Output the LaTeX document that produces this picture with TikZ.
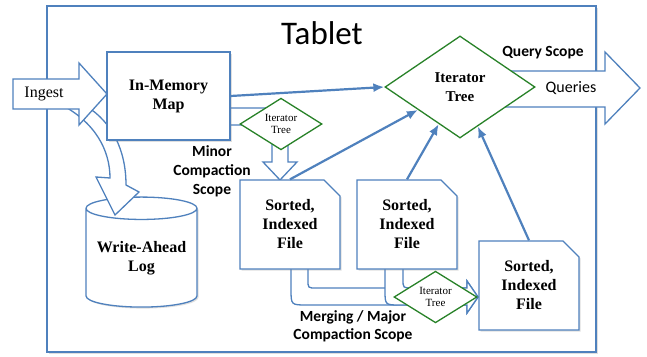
\documentclass[tikz,border=0pt]{standalone}
\usepackage{fontspec}
\setmainfont{Liberation Serif}
\setsansfont{Carlito}
\usetikzlibrary{shapes.geometric,shapes.misc,arrows.meta,positioning,shadows}
\definecolor{lineblue}{RGB}{79,129,189}
\definecolor{treegreen}{RGB}{40,130,40}
\tikzset{>={Latex[length=11pt,width=9pt]}, x=1pt, y=-1pt}
\tikzstyle{shade} = [drop shadow={opacity=0.25, shadow xshift=1.5pt, shadow yshift=-1.5pt}]
\tikzstyle{box} = [draw=lineblue, line width=1.3pt, fill=white, rectangle, align=center, inner sep=0pt, shade, font=\fontsize{16}{19}\selectfont\bfseries]
\tikzstyle{file} = [box, chamfered rectangle, chamfered rectangle corners=north east, chamfered rectangle xsep=8pt, chamfered rectangle ysep=8pt, minimum width=100pt, minimum height=89pt]
\tikzstyle{tree} = [draw=treegreen, line width=1.3pt, fill=white, diamond, inner sep=0pt, align=center]
\tikzstyle{fat} = [draw=lineblue, line width=1.3pt, fill=white, line join=miter]
\tikzstyle{conn} = [draw=lineblue, line width=2.2pt, ->]
\tikzstyle{scopelabel} = [align=center, font=\sffamily\bfseries\fontsize{15.5}{19}\selectfont]

\begin{document}
\begin{tikzpicture}
	\useasboundingbox (0,0) rectangle (647,356);

	\node [draw=lineblue, line width=2pt, fill=white, shade, minimum width=549pt, minimum height=346pt] (tablet) at (321.5,179) {};
	\node [font=\sffamily\fontsize{33}{33}\selectfont] (title) at (322,33) {Tablet};

	% write-ahead log and the ingest path
	\node [box, cylinder, shape border rotate=90, aspect=0.25, minimum width=111pt, minimum height=110pt] (wal) at (141.5,258) {Write-Ahead\\Log};
	\draw [fat] (60,104) .. controls (95,122) and (110,150) .. (110,178) -- (96,177) -- (115,215) -- (139,192) -- (126,185) .. controls (126,150) and (112,122) .. (86,106) -- cycle;
	\draw [fat] (13,79) -- (79,79) -- (79,63) -- (107,94) -- (79,125) -- (79,109) -- (13,109) -- cycle;
	\node [font=\fontsize{16}{16}\selectfont] (ingest) at (44,94) {Ingest};

	% minor compaction
	\draw [fat] (225,108) -- (288,108) -- (288,162) -- (297,162) -- (280,180) -- (263,162) -- (272,162) -- (272,125) -- (225,125) -- cycle;
	\node [box, minimum width=123pt, minimum height=88pt] (map) at (168.5,96) {In-Memory\\Map};
	\node [tree, minimum width=82pt, minimum height=50pt, font=\fontsize{11}{12}\selectfont] (minortree) at (281,124) {Iterator\\Tree};
	\node [scopelabel] (minorlbl) at (212,171) {Minor\\Compaction\\Scope};

	% merging / major compaction
	\draw [fat] (291,269) -- (291,289) .. controls (291,305) .. (307,305) -- (467,305) -- (467,313) -- (478,297) -- (467,281) -- (467,288) -- (316,288) .. controls (308,288) .. (308,280) -- (308,269);
	\draw [fat] (385,269) -- (385,290) .. controls (385,305) .. (400,305) -- (467,305) -- (467,313) -- (478,297) -- (467,281) -- (467,288) -- (412,288) .. controls (403,288) .. (403,279) -- (403,269);
	\node [file] (f1) at (290,224.5) {Sorted,\\Indexed\\File};
	\node [file] (f2) at (407,224.5) {Sorted,\\Indexed\\File};
	\node [file] (f3) at (529,285.5) {Sorted,\\Indexed\\File};
	\node [tree, minimum width=83pt, minimum height=50pt, font=\fontsize{11}{12}\selectfont] (majortree) at (435.5,297) {Iterator\\Tree};
	\node [scopelabel, font=\sffamily\bfseries\fontsize{15.5}{18}\selectfont] (mergelbl) at (353,326) {Merging / Major\\Compaction Scope};

	% query side
	\draw [fat] (500,71) -- (605,71) -- (605,52) -- (640,88) -- (605,124) -- (605,107) -- (500,107) -- cycle;
	\node [tree, minimum width=150pt, minimum height=102pt, font=\fontsize{15}{19}\selectfont\bfseries] (tree) at (460,87) {Iterator\\Tree};
	\node [font=\sffamily\fontsize{16}{16}\selectfont] (queries) at (571,88) {Queries};
	\node [scopelabel] (qscope) at (543,53) {Query Scope};

	\draw [conn] (map.east) -- (tree.west);
	\draw [conn] (f1.north) -- (tree);
	\draw [conn] (f2.north) -- (tree);
	\draw [conn] (f3.north) -- (tree);
\end{tikzpicture}
\end{document}
